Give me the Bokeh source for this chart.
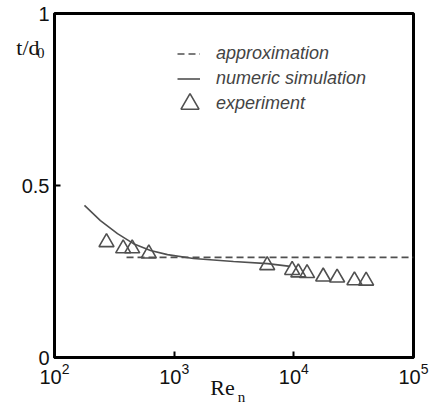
from bokeh.plotting import figure
from bokeh.models import (Legend, LegendItem, FixedTicker, LogTicker, Range1d, LinearAxis)
from bokeh.embed import file_html
from bokeh.resources import INLINE

# ---- data ----
sim_re = [178, 242, 336, 457, 634, 879, 1450, 3130, 6030, 9330]
sim_t = [0.442, 0.398, 0.360, 0.331, 0.311, 0.299, 0.288, 0.279, 0.273, 0.265]

approx_re = [400, 100000]
approx_t = [0.291, 0.291]

exp_re = [272, 375, 446, 614, 5990, 9680, 10900, 12900, 17600, 23000, 32100, 40200]
exp_t = [0.335, 0.317, 0.317, 0.302, 0.268, 0.254, 0.247, 0.245, 0.235, 0.232, 0.224, 0.223]

y_ticks = [0, 0.5, 1]
legend_labels = ["approximation", "numeric simulation", "experiment"]

GRAY = "#505050"
INK = "#111111"

p = figure(width=430, height=408, x_axis_type="log",
           x_range=Range1d(100, 100000), y_range=Range1d(0, 1),
           output_backend="svg", toolbar_location=None,
           min_border_left=54, min_border_right=17, min_border_top=13, min_border_bottom=51)

p.grid.visible = False
p.outline_line_color = "black"
p.outline_line_width = 3
p.background_fill_color = "white"
p.border_fill_color = "white"

for ax in (p.xaxis[0], p.yaxis[0]):
    ax.axis_line_width = 3
    ax.axis_line_color = "black"
    ax.major_tick_in = 6
    ax.major_tick_out = 0
    ax.major_tick_line_width = 2
    ax.minor_tick_line_color = None
    ax.major_label_text_font = "Liberation Sans"
    ax.major_label_text_font_size = "20px"
    ax.major_label_text_color = INK

p.xaxis[0].ticker = LogTicker(desired_num_ticks=4, num_minor_ticks=0)
p.xaxis[0].major_label_standoff = 5
p.yaxis[0].ticker = FixedTicker(ticks=y_ticks)
p.yaxis[0].major_label_standoff = 5

r_approx = p.line(approx_re, approx_t, line_color=GRAY, line_width=1.6, line_dash="7 4")
r_sim = p.line(sim_re, sim_t, line_color=GRAY, line_width=1.6)
r_exp = p.scatter(exp_re, exp_t, marker="triangle", size=15, line_color=GRAY,
                  line_width=1.6, fill_alpha=0)

common = dict(padding=0, margin=0, border_line_alpha=0, background_fill_alpha=0,
              label_text_font="Liberation Sans", label_text_font_style="italic",
              label_text_font_size="18px", label_text_color="#444444")
legend1 = Legend(items=[LegendItem(label=legend_labels[0], renderers=[r_approx]),
                        LegendItem(label=legend_labels[1], renderers=[r_sim])],
                 location=(123, 268), spacing=4, label_height=21, glyph_height=21,
                 glyph_width=23, label_standoff=16, **common)
legend2 = Legend(items=[LegendItem(label=legend_labels[2], renderers=[r_exp])],
                 location=(113, 231), spacing=0, label_height=45, glyph_height=45,
                 glyph_width=45, label_standoff=4, **common)
p.add_layout(legend1, "center")
p.add_layout(legend2, "center")


def text_axis(side, tick, text, size, standoff):
    # an extra, line-less axis whose single tick label carries a title piece
    ax = LinearAxis(ticker=FixedTicker(ticks=[tick], minor_ticks=[]),
                    major_label_overrides={tick: text}, axis_line_color=None,
                    major_tick_line_color=None, minor_tick_line_color=None,
                    major_tick_in=0, major_tick_out=0,
                    major_label_standoff=standoff, major_label_text_font="Liberation Serif",
                    major_label_text_font_size=size, major_label_text_color=INK)
    p.add_layout(ax, side)


# axis titles: t/d0 and Re_n (with subscripts)
text_axis("left", 0.9, "t/d", "22px", -21)
text_axis("left", 0.884, "0", "15px", -31)
text_axis("below", 2535, "Re", "22px", -12)
text_axis("below", 3650, "n", "15px", -14)

open("out.html", "w").write(file_html(p, INLINE))
